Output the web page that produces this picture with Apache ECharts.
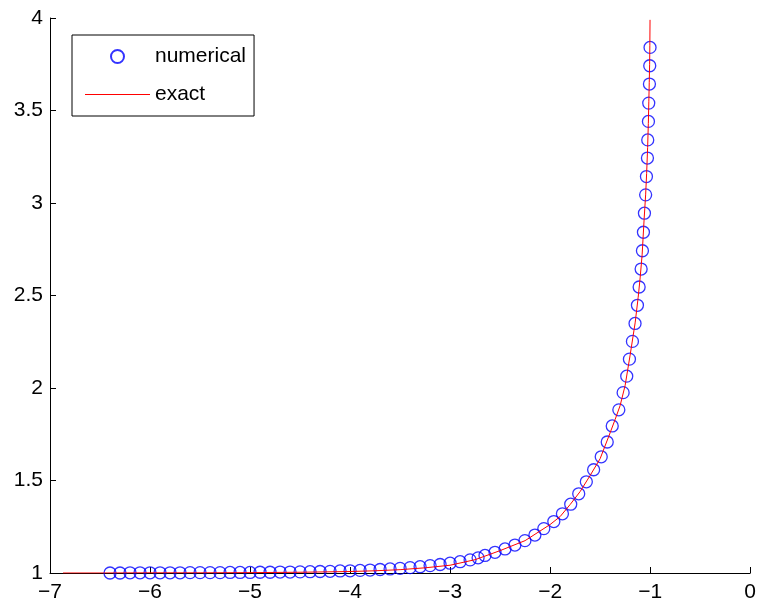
<!DOCTYPE html>
<html>
<head>
<meta charset="utf-8">
<script src="https://cdn.jsdelivr.net/npm/echarts@6/dist/echarts.min.js"></script>
<style>
  html, body { margin: 0; padding: 0; background: #ffffff; }
  #chart { width: 759px; height: 607px; }
</style>
</head>
<body>
<div id="chart"></div>
<script>
// Numerical solution samples (x, y)
const numericalX = [
  -6.40, -6.30, -6.20, -6.10, -6.00, -5.90, -5.80, -5.70, -5.60, -5.50,
  -5.40, -5.30, -5.20, -5.10, -5.00, -4.90, -4.80, -4.70, -4.60, -4.50,
  -4.40, -4.30, -4.20, -4.10, -4.00, -3.90, -3.80, -3.70, -3.60, -3.50,
  -3.40, -3.30, -3.20, -3.10, -3.00, -2.90, -2.80, -2.72,
  -2.651, -2.551, -2.451, -2.352, -2.252, -2.152, -2.063, -1.963, -1.877, -1.794,
  -1.714, -1.638, -1.565, -1.489, -1.429, -1.379, -1.313, -1.270,
  -1.234, -1.207, -1.177, -1.151, -1.127, -1.110, -1.090, -1.077, -1.067, -1.057,
  -1.045, -1.037, -1.027, -1.024, -1.017, -1.014, -1.007, -1.004, -1.001
];
const numericalY = [
  1.000, 1.000, 1.001, 1.001, 1.001, 1.001, 1.001, 1.001, 1.002, 1.002,
  1.002, 1.002, 1.003, 1.003, 1.003, 1.004, 1.004, 1.005, 1.005, 1.006,
  1.007, 1.008, 1.009, 1.011, 1.012, 1.014, 1.016, 1.019, 1.022, 1.025,
  1.029, 1.034, 1.040, 1.046, 1.053, 1.061, 1.071, 1.082,
  1.095, 1.112, 1.130, 1.151, 1.175, 1.205, 1.240, 1.278, 1.320, 1.372,
  1.428, 1.493, 1.558, 1.628, 1.708, 1.795, 1.882, 1.975,
  2.064, 2.156, 2.252, 2.349, 2.447, 2.546, 2.643, 2.742, 2.842, 2.945,
  3.044, 3.143, 3.243, 3.341, 3.441, 3.540, 3.643, 3.742, 3.841
];

// Exact solution curve (x, y)
const exactX = [
  -6.87, -6.5, -6.0, -5.5, -5.0, -4.5, -4.0, -3.75, -3.5, -3.25,
  -3.0, -2.75, -2.5, -2.25, -2.0, -1.9, -1.8, -1.7, -1.6, -1.5,
  -1.4, -1.35, -1.3, -1.25, -1.2, -1.15, -1.12, -1.1, -1.08, -1.06,
  -1.045, -1.035, -1.025, -1.018, -1.013, -1.009, -1.005, -1.003, -1.001
];
const exactY = [
  1.000, 1.000, 1.001, 1.001, 1.002, 1.004, 1.008, 1.012, 1.018, 1.028,
  1.042, 1.072, 1.121, 1.175, 1.262, 1.305, 1.370, 1.440, 1.527, 1.618,
  1.758, 1.830, 1.905, 2.014, 2.178, 2.352, 2.488, 2.595, 2.720, 2.914,
  3.044, 3.160, 3.300, 3.430, 3.550, 3.650, 3.750, 3.850, 3.990
];

// Axis ranges and tick steps
const xRange = [-7, 0];
const xStep = 1;
const yRange = [1, 4];
const yStep = 0.5;

const seriesNames = ['numerical', 'exact'];

const toPairs = (xs, ys) => xs.map((x, i) => [x, ys[i]]);
const fmt = v => String(v).replace('-', '\u2212');

const FONT = '"Liberation Sans", Arial, Helvetica, sans-serif';
const FONT_SIZE = 21;

const chart = echarts.init(document.getElementById('chart'), null, { renderer: 'canvas' });

const axisCommon = {
  type: 'value',
  axisLine: { show: true, onZero: false, lineStyle: { color: '#000000', width: 1 } },
  axisTick: { show: true, inside: true, length: 6, lineStyle: { color: '#000000', width: 1 } },
  splitLine: { show: false },
  axisLabel: { color: '#000000', fontFamily: FONT, fontSize: FONT_SIZE, formatter: fmt }
};

chart.setOption({
  animation: false,
  backgroundColor: '#ffffff',
  grid: { left: 50, right: 6, top: 18, bottom: 34, containLabel: false },
  xAxis: Object.assign({}, axisCommon, {
    min: xRange[0], max: xRange[1], interval: xStep,
    axisLabel: Object.assign({}, axisCommon.axisLabel, { margin: 9 })
  }),
  yAxis: Object.assign({}, axisCommon, {
    min: yRange[0], max: yRange[1], interval: yStep,
    axisLabel: Object.assign({}, axisCommon.axisLabel, { margin: 7 })
  }),
  legend: {
    orient: 'vertical',
    left: 72,
    top: 35,
    padding: [11, 8, 11, 13],
    itemWidth: 65,
    itemHeight: 13,
    itemGap: 17,
    backgroundColor: '#ffffff',
    borderColor: '#000000',
    borderWidth: 1,
    borderRadius: 0,
    textStyle: { color: '#000000', fontFamily: FONT, fontSize: FONT_SIZE },
    data: [
      { name: seriesNames[0], icon: 'circle' },
      { name: seriesNames[1], icon: 'path://M0,0 H65 V1 H0 Z' }
    ]
  },
  series: [
    {
      name: seriesNames[0],
      type: 'scatter',
      symbol: 'circle',
      symbolSize: 12,
      itemStyle: { color: 'rgba(0,0,0,0)', borderColor: '#0000ff', borderWidth: 1.3 },
      data: toPairs(numericalX, numericalY)
    },
    {
      name: seriesNames[1],
      type: 'line',
      symbol: 'none',
      lineStyle: { color: '#ff0000', width: 1 },
      itemStyle: { color: '#ff0000' },
      data: toPairs(exactX, exactY)
    }
  ]
});
</script>
</body>
</html>
